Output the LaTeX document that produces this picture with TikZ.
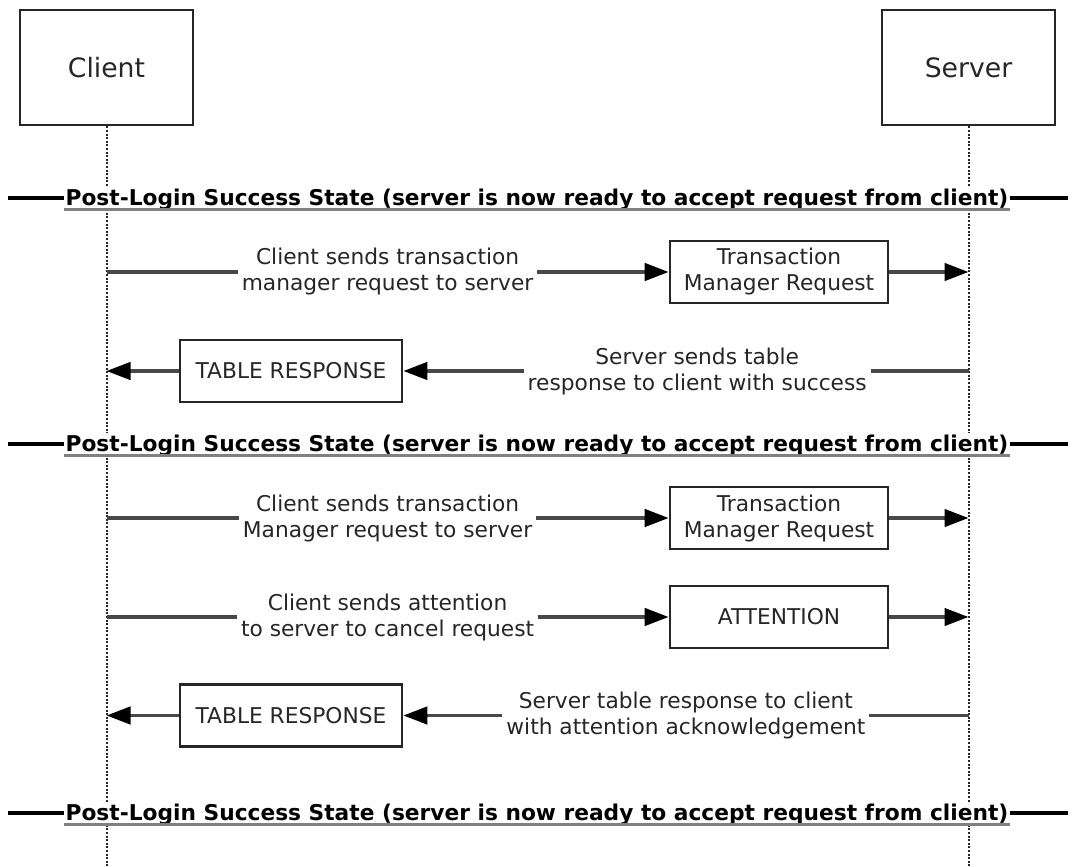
\documentclass[tikz,border=0pt]{standalone}
\usepackage{fontspec}
\setmainfont{DejaVu Sans}
\usetikzlibrary{arrows.meta}
\definecolor{txt}{HTML}{262626}
\definecolor{ln}{HTML}{484848}
\begin{document}
\begin{tikzpicture}[x=0.75pt,y=-0.75pt,
 actor/.style={draw=txt,line width=2pt,minimum width=129.75pt,minimum height=86.25pt,inner sep=0pt,font=\fontsize{20}{24}\selectfont,text=txt},
 msgbox/.style={draw=txt,line width=2pt,minimum width=163.5pt,minimum height=46.5pt,inner sep=0pt,align=center,font=\fontsize{16.3}{19.5}\selectfont,text=txt},
 lifeline/.style={draw=txt,line width=1.5pt,dash pattern=on 1.5pt off 1.2pt},
 msg/.style={draw=ln,line width=2.6pt},
 arr/.style={msg,-{Triangle[length=18pt,width=13pt,color=black]}},
 lbl/.style={fill=white,inner sep=3pt,align=center,font=\fontsize{16.3}{19.5}\selectfont,text=txt},
 hdr/.style={fill=white,inner sep=1pt,anchor=base,font=\bfseries\fontsize{16.3}{19.5}\selectfont,text=black},
 hline/.style={draw=black,line width=2.8pt},
 uline/.style={draw=gray,line width=2.2pt}]
\useasboundingbox (0,0) rectangle (1074,867);

% actors
\node[actor] (client) at (106.5,67.5) {Client};
\node[actor] (server) at (968.5,67.5) {Server};
\coordinate (cend) at (106.5,867);
\coordinate (send) at (968.5,867);
\draw[lifeline] (client.south) -- (cend);
\draw[lifeline] (server.south) -- (send);

% state headers
\foreach \i/\y in {1/198,2/444,3/813}{
  \coordinate (hl\i a) at (8,\y);
  \coordinate (hl\i b) at (1068,\y);
  \draw[hline] (hl\i a) -- (hl\i b);
  \node[hdr] (h\i) at (537,\y+7) {Post-Login Success State (server is now ready to accept request from client)};
  \draw[uline] ([yshift=-3.2pt]h\i.base west) -- ([yshift=-3.2pt]h\i.base east);
}

% message boxes
\node[msgbox] (tm1) at (779,272) {Transaction\\Manager Request};
\node[msgbox, minimum width=166.5pt] (tr1) at (291,371) {TABLE RESPONSE};
\node[msgbox] (tm2) at (779,518) {Transaction\\Manager Request};
\node[msgbox] (att) at (779,617) {ATTENTION};
\node[msgbox, minimum width=166.5pt] (tr2) at (291,715.5) {TABLE RESPONSE};

% lifeline anchor points
\coordinate (c1) at (106.5,272);
\coordinate (s1) at (968.5,272);
\coordinate (c2) at (106.5,371);
\coordinate (s2) at (968.5,371);
\coordinate (c3) at (106.5,518);
\coordinate (s3) at (968.5,518);
\coordinate (c4) at (106.5,617);
\coordinate (s4) at (968.5,617);
\coordinate (c5) at (106.5,715.5);
\coordinate (s5) at (968.5,715.5);

% message 1
\draw[arr] (c1) -- node[lbl] {Client sends transaction\\manager request to server} (tm1.west);
\draw[arr] (tm1.east) -- (s1);
% message 2
\draw[arr] (s2) -- node[lbl,pos=0.48] {Server sends table\\response to client with success} (tr1.east);
\draw[arr] (tr1.west) -- (c2);
% message 3
\draw[arr] (c3) -- node[lbl] {Client sends transaction\\Manager request to server} (tm2.west);
\draw[arr] (tm2.east) -- (s3);
% message 4
\draw[arr] (c4) -- node[lbl] {Client sends attention\\to server to cancel request} (att.west);
\draw[arr] (att.east) -- (s4);
% message 5
\draw[arr] (s5) -- node[lbl] {Server table response to client\\with attention acknowledgement} (tr2.east);
\draw[arr] (tr2.west) -- (c5);
\end{tikzpicture}
\end{document}
